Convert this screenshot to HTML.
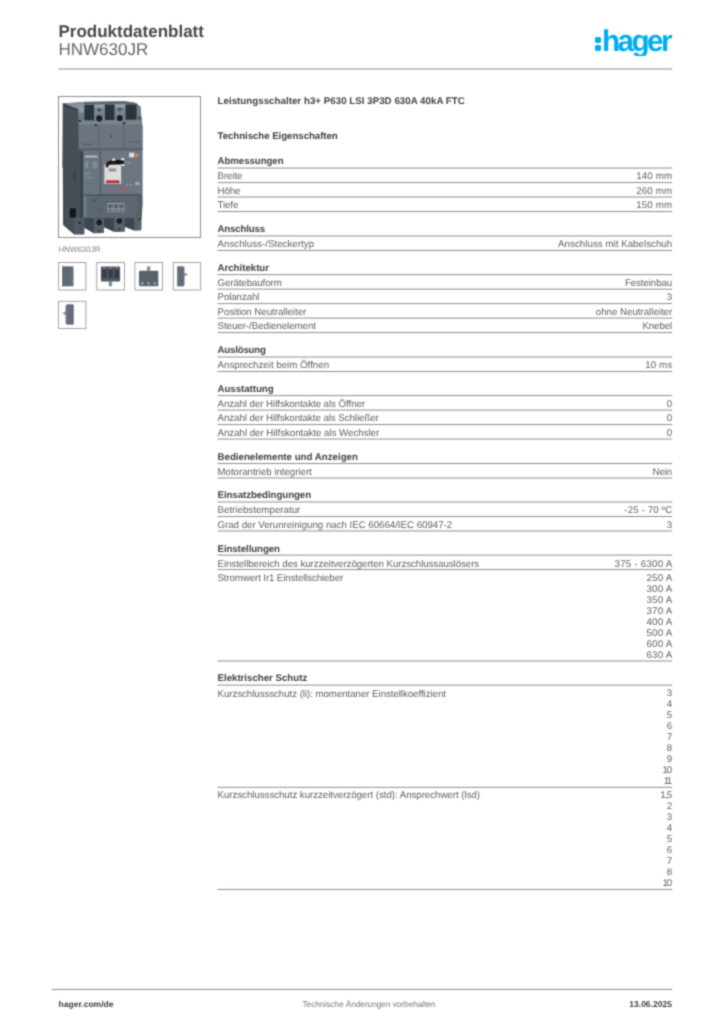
<!DOCTYPE html>
<html lang="de">
<head>
<meta charset="utf-8">
<title>Produktdatenblatt HNW630JR</title>
<style>
html,body{margin:0;padding:0;background:#fff;}
body{width:724px;height:1024px;position:relative;overflow:hidden;font-family:"Liberation Sans",sans-serif;text-rendering:geometricPrecision;}
.t{position:absolute;white-space:nowrap;line-height:1;}
#page{position:absolute;left:0;top:0;width:724px;height:1024px;filter:url(#soft);}
.box{position:absolute;border:1px solid #8c8c8c;box-sizing:border-box;background:#fff;}
</style>
</head>
<body>
<svg width="0" height="0" style="position:absolute"><defs><filter id="soft" x="0" y="0" width="100%" height="100%" color-interpolation-filters="sRGB"><feConvolveMatrix order="3" kernelMatrix="0.0400 0.1200 0.0400 0.1200 0.3600 0.1200 0.0400 0.1200 0.0400" edgeMode="duplicate" preserveAlpha="false"/></filter></defs></svg>
<div id="page">
<div class="t" style="left:58.5px;top:23.00px;font-size:17px;font-weight:700;color:#4a4a4a;letter-spacing:0px">Produktdatenblatt</div>
<div class="t" style="left:58.5px;top:41.00px;font-size:17px;color:#666;letter-spacing:0px">HNW630JR</div>
<div class="logo" style="position:absolute;left:594.5px;top:37px;width:6.4px;height:5.8px;border-radius:1.4px;background:#00aeef"></div>
<div class="logo" style="position:absolute;left:594.5px;top:45.4px;width:6.4px;height:5.8px;border-radius:1.4px;background:#00aeef"></div>
<div id="logoclip" style="position:absolute;left:596px;top:20px;width:90px;height:35.8px;overflow:hidden"><div class="t" id="logotxt" style="left:5.6px;top:7px;font-size:30px;font-weight:700;color:#00aeef;letter-spacing:-2.6px;transform-origin:0 0;transform:scaleX(0.988)">hager</div></div>

<div class="t" style="left:217.5px;top:97.00px;font-size:9.73px;font-weight:700;color:#434343;letter-spacing:0.03px">Leistungsschalter h3+ P630 LSI 3P3D 630A 40kA FTC</div>
<div class="t" style="left:217.5px;top:132.00px;font-size:9.73px;font-weight:700;color:#434343;letter-spacing:-0.07px">Technische Eigenschaften</div>
<div class="box" style="left:58px;top:96px;width:143px;height:142px"></div>
<svg id="prod" style="position:absolute;left:59px;top:97px" width="141" height="140" viewBox="59 97 141 140">
<defs>
<linearGradient id="gTop" x1="0" x2="0" y1="0" y2="1"><stop offset="0" stop-color="#7a848e"/><stop offset="1" stop-color="#68727c"/></linearGradient>
<clipPath id="sil"><path d="M62.6,103.3 L84.7,101.8 L125,101.1 L136,103 L140.6,106.6 L142.7,126 L142.7,205 L141.6,218 L141.4,230.2 L134.2,230.4 L124.7,226.8 L124.7,231.5 L114,231.7 L104,227.2 L104,233.1 L93.8,233.2 L84.3,227.8 L84.3,234.4 L74,234.4 L63,225 L62.6,168 L62.3,167 Z"/></clipPath>
</defs>
<g clip-path="url(#sil)">
<!-- silhouette -->
<path d="M62.6,103.3 L84.7,101.8 L125,101.1 L136,103 L140.6,106.6 L142.7,126 L142.7,205 L141.6,218 L141.4,230.2 L134.2,230.4 L124.7,226.8 L124.7,231.5 L114,231.7 L104,227.2 L104,233.1 L93.8,233.2 L84.3,227.8 L84.3,234.4 L74,234.4 L63,225 L62.6,168 L62.3,167 Z" fill="#69737d"/>
<!-- top face -->
<path d="M62.6,103.3 L84.7,101.8 L125,101.1 L136,103 L140.6,106.6 L142,125.8 L78.5,125.8 L78,109 Z" fill="url(#gTop)"/>
<!-- left side face -->
<path d="M62.6,103.3 L78,109.5 L78.5,125 L79,150 L82.8,152 L82.8,217 L84.3,228 L84.3,234.4 L74,234.4 L63,225 L62.6,168 L62.3,167 Z" fill="#444f57"/>
<path d="M62.6,103.3 L78,109.5 L78,111 L62.6,105.2 Z" fill="#343e46"/>
<!-- top highlights -->
<path d="M64.5,103.6 L84.5,102.2 L84.5,106.5 L78.5,108.6 Z" fill="#8a939d" opacity=".85"/>
<rect x="84" y="101.6" width="56" height="3" fill="#5f6973"/>
<rect x="94.6" y="104.5" width="9.6" height="3.3" fill="#98a1aa"/>
<rect x="79.2" y="106.4" width="4.8" height="6.2" fill="#929ba4"/>
<rect x="114.8" y="104.2" width="10.2" height="3.3" fill="#98a1aa"/>
<rect x="94.6" y="107.8" width="10" height="13" fill="#78828c"/>
<rect x="114.6" y="107.5" width="10.8" height="13" fill="#78828c"/>
<rect x="78.6" y="120.6" width="63.6" height="4" fill="#7a848e"/>
<!-- slots -->
<rect x="84.4" y="105" width="9.6" height="15.3" fill="#2a343c"/>
<rect x="105" y="104.7" width="9.4" height="15.3" fill="#2a343c"/>
<rect x="125.6" y="104.7" width="11" height="14.9" fill="#2a343c"/>
<circle cx="99.3" cy="118.4" r="3.1" fill="#1d2126"/>
<circle cx="119.8" cy="118.1" r="3.1" fill="#1d2126"/>
<circle cx="99.2" cy="110" r="1.4" fill="#333c44"/>
<circle cx="119.7" cy="109.4" r="1.4" fill="#333c44"/>
<circle cx="79.8" cy="120.9" r="1.2" fill="#262b31"/>
<circle cx="95.9" cy="125.2" r="1.2" fill="#262b31"/>
<circle cx="123.9" cy="123.3" r="1.2" fill="#262b31"/>
<circle cx="139.4" cy="118.1" r="1.1" fill="#262b31"/>
<!-- upper cover -->
<rect x="78.6" y="126" width="64.1" height="22.4" fill="#6b7480"/>
<rect x="98.6" y="126" width=".8" height="22.4" fill="#59626c"/>
<rect x="122.9" y="126" width=".8" height="22.4" fill="#59626c"/>
<rect x="78.6" y="148" width="64" height="2.6" fill="#5a636d"/>
<circle cx="111.2" cy="136.4" r="1.1" fill="#454d57"/>
<rect x="82.5" y="143.6" width="10.5" height="1.3" fill="#58616b"/>
<rect x="128.8" y="141.3" width="11" height="1.3" fill="#58616b"/>
<!-- mid panels -->
<rect x="80.7" y="151" width="2.3" height="66" fill="#353f47"/>
<rect x="83.1" y="151" width="17" height="43.6" fill="#6a747e"/>
<rect x="100.9" y="150.6" width="41.5" height="42.6" fill="#6c7680"/>
<rect x="100" y="150.8" width="1" height="43.5" fill="#4d5660"/>
<rect x="85" y="155.5" width="12.4" height="2.1" fill="#d5d9de" opacity=".7"/>
<rect x="85" y="161.3" width="3.5" height="7" fill="#9aa2ab" opacity=".5"/>
<rect x="92.5" y="161.3" width="5" height="7" fill="#9aa2ab" opacity=".5"/>
<rect x="85" y="172.5" width="5" height="2.2" fill="#9aa2ab" opacity=".5"/>
<rect x="85" y="176.5" width="7.5" height="2.2" fill="#9aa2ab" opacity=".45"/>
<rect x="129.1" y="152.7" width="5.2" height="4.6" fill="#eceef0" opacity=".9"/>
<path d="M135.4,153.3 L140,155.3 L135.4,157.4 Z" fill="#e88a33"/>
<!-- handle -->
<rect x="104.3" y="164.6" width="16.8" height="19.2" fill="#dddcda"/>
<rect x="108.8" y="168.3" width="7.4" height="3.2" fill="#84878c" opacity=".85"/>
<path d="M105.6,167 Q105.8,161 111.5,160.6 L123.6,160.3 L123.8,164 L110,164.4 Q108.2,164.6 108,167.4 Z" fill="#17191c"/>
<circle cx="118.1" cy="162.2" r="2.1" fill="#0c0d0f"/>
<rect x="112.2" y="158.7" width="3" height="2" fill="#f2f2f2"/>
<rect x="121.2" y="158.2" width="3" height="2" fill="#f2f2f2"/>
<rect x="121.6" y="164.2" width="2.8" height="1.8" fill="#f2f2f2"/>
<rect x="125.8" y="162.2" width="5.4" height="1.3" fill="#9aa2ab" opacity=".7"/>
<rect x="106" y="180.3" width="13.4" height="2.9" fill="#c52d34"/>
<rect x="135.2" y="181.8" width="4.2" height="3.4" fill="#d0d4d9" opacity=".5"/>
<rect x="125.6" y="184.4" width="7" height="1.1" fill="#a7aeb6" opacity=".6"/>
<circle cx="122.9" cy="189.7" r="1.7" fill="#e4483f"/>
<!-- lower cover -->
<rect x="83.8" y="194.6" width="53.6" height="22.6" fill="#5d6771"/>
<rect x="83.8" y="194.4" width="58" height="1.6" fill="#4b555f"/>
<rect x="83.8" y="196" width="3" height="21" fill="#6f7983"/>
<rect x="137.3" y="195.6" width="5.2" height="22" fill="#566069"/>
<rect x="106.4" y="202.3" width="18.4" height="9.8" fill="#59636d"/>
<g stroke="#b4bac2" stroke-width="1" opacity=".8" fill="none"><path d="M107.3,203.6H124.3M107.3,209H124.3"/><path stroke-width=".7" d="M107.6,203.6V211.3M113.1,203.6V211.3M118.6,203.6V211.3M124,203.6V211.3M107.3,211.6H124.3"/></g>
<circle cx="98.9" cy="210" r=".8" fill="#3b424c"/>
<rect x="92" y="199.5" width="5.4" height="1.4" fill="#4c5660"/>
<!-- side details -->
<rect x="69.8" y="208.3" width="6" height="9.2" fill="#121518"/>
<rect x="73" y="172" width="3" height="8" fill="#3b454d"/>
<!-- feet -->
<rect x="84.3" y="217.2" width="57" height="17" fill="#3d474f"/>
<rect x="83" y="216.6" width="59" height="1.4" fill="#5f6872"/>
<rect x="93.8" y="218.5" width="10.2" height="14.6" fill="#59626c"/>
<rect x="114" y="218" width="10.7" height="13.5" fill="#59626c"/>
<rect x="134.2" y="217.5" width="7.2" height="12.8" fill="#59626c"/>
<rect x="74" y="218" width="10.3" height="16.4" fill="#4f5963"/>
<circle cx="99.2" cy="222.4" r="2.8" fill="#181b1f"/>
<circle cx="119.4" cy="221" r="2.8" fill="#181b1f"/>
<circle cx="79.6" cy="223" r="1.2" fill="#1f2328"/>
<circle cx="139.6" cy="219.1" r="1" fill="#1f2328"/>
<path d="M97.8,231.6 L99.2,229.2 L100.6,231.6 Z" fill="#262b31"/>
<path d="M118,230.2 L119.4,227.8 L120.8,230.2 Z" fill="#262b31"/>
</g>
</svg>

<div class="t" style="left:58.5px;top:246.00px;font-size:7.9px;color:#808080;letter-spacing:0.03px">HNW630JR</div>
<svg id="thumbs" style="position:absolute;left:56px;top:260px" width="148" height="72" viewBox="56 260 148 72">
<g fill="#fff" stroke="#a4a4a4" stroke-width="1">
<rect x="58.5" y="262.5" width="27.4" height="27.5"/>
<rect x="96.7" y="262.5" width="27.8" height="27.5"/>
<rect x="134.9" y="262.5" width="27.7" height="27.5"/>
<rect x="173.3" y="262.5" width="27.3" height="27.5"/>
<rect x="58.5" y="301.3" width="27.4" height="27.2"/>
</g>
<g>
<rect x="62.5" y="266.4" width="11" height="19.9" fill="#636d77"/>
<rect x="62.5" y="266.4" width="1.6" height="19.9" fill="#525c66"/>
<rect x="67.3" y="266.4" width=".8" height="19.9" fill="#59636d"/>
<!-- 2 -->
<rect x="100.9" y="266.4" width="19.2" height="15" rx="1" fill="#4f5862"/>
<rect x="102.4" y="269.2" width="4.2" height="8.6" fill="#353c45"/>
<rect x="108.5" y="269.2" width="4.2" height="8.6" fill="#353c45"/>
<rect x="114.6" y="269.2" width="4.2" height="8.6" fill="#353c45"/>
<rect x="103.3" y="267.6" width="2.2" height="1.4" fill="#868f98"/>
<rect x="109.5" y="267.6" width="2.2" height="1.4" fill="#868f98"/>
<rect x="115.6" y="267.6" width="2.2" height="1.4" fill="#868f98"/>
<rect x="108.7" y="281.2" width="3.4" height="5" fill="#7f8892"/>
<!-- 3 -->
<rect x="139" y="270.7" width="19.3" height="15.6" rx="1.2" fill="#59626c"/>
<rect x="146.9" y="266.4" width="3.5" height="4.6" fill="#8a939c"/>
<rect x="141" y="281.8" width="2.6" height="3.2" fill="#8d959e"/>
<rect x="147.3" y="281.8" width="2.6" height="3.2" fill="#8d959e"/>
<rect x="153.6" y="281.8" width="2.6" height="3.2" fill="#8d959e"/>
<!-- 4 -->
<path d="M177.3,266.4 H183.4 L184.6,267.8 V273 L188.3,274.4 L184.6,276 V285.2 L183.4,286.3 H177.3 Z" fill="#858e97"/>
<rect x="177.3" y="266.4" width="6.6" height="19.9" rx=".6" fill="#636d77"/>
<!-- 5 -->
<path d="M73.6,304.6 H67 L65.4,306 V311.6 L62.2,313.2 L65.4,315 V323.2 L67,324.4 H73.6 Z" fill="#858e97"/>
<rect x="66.5" y="304.6" width="7.1" height="19.8" rx=".6" fill="#636d77"/>
</g>
</svg>

<div class="t " style="top:157.00px;font-size:9.73px;letter-spacing:-0.085px;color:#434343;font-weight:700;left:217.50px;">Abmessungen</div>
<div class="t " style="top:172.00px;font-size:9.73px;letter-spacing:-0.09px;color:#626262;left:217.50px;">Breite</div>
<div class="t " style="top:172.00px;font-size:9.73px;letter-spacing:0.18500000000000003px;color:#626262;right:51.61px;text-align:right;">140 mm</div>
<div class="t " style="top:187.00px;font-size:9.73px;letter-spacing:-0.09px;color:#626262;left:217.50px;">Höhe</div>
<div class="t " style="top:187.00px;font-size:9.73px;letter-spacing:0.18500000000000003px;color:#626262;right:51.61px;text-align:right;">260 mm</div>
<div class="t " style="top:201.00px;font-size:9.73px;letter-spacing:-0.09px;color:#626262;left:217.50px;">Tiefe</div>
<div class="t " style="top:201.00px;font-size:9.73px;letter-spacing:0.18500000000000003px;color:#626262;right:51.61px;text-align:right;">150 mm</div>
<div class="t " style="top:225.00px;font-size:9.73px;letter-spacing:-0.2px;color:#434343;font-weight:700;left:217.50px;">Anschluss</div>
<div class="t " style="top:240.00px;font-size:9.73px;letter-spacing:0.02px;color:#626262;left:217.50px;">Anschluss-/Steckertyp</div>
<div class="t " style="top:240.00px;font-size:9.73px;letter-spacing:0.028px;color:#626262;right:51.77px;text-align:right;">Anschluss mit Kabelschuh</div>
<div class="t " style="top:264.00px;font-size:9.73px;letter-spacing:-0.03px;color:#434343;font-weight:700;left:217.50px;">Architektur</div>
<div class="t " style="top:279.00px;font-size:9.73px;letter-spacing:-0.094px;color:#626262;left:217.50px;">Gerätebauform</div>
<div class="t " style="top:279.00px;font-size:9.73px;letter-spacing:-0.09px;color:#626262;right:51.89px;text-align:right;">Festeinbau</div>
<div class="t " style="top:293.00px;font-size:9.73px;letter-spacing:-0.09px;color:#626262;left:217.50px;">Polanzahl</div>
<div class="t " style="top:293.00px;font-size:9.73px;letter-spacing:0.4600000000000001px;color:#626262;right:51.34px;text-align:right;">3</div>
<div class="t " style="top:308.00px;font-size:9.73px;letter-spacing:-0.045px;color:#626262;left:217.50px;">Position Neutralleiter</div>
<div class="t " style="top:308.00px;font-size:9.73px;letter-spacing:-0.019px;color:#626262;right:51.82px;text-align:right;">ohne Neutralleiter</div>
<div class="t " style="top:322.00px;font-size:9.73px;letter-spacing:-0.044px;color:#626262;left:217.50px;">Steuer-/Bedienelement</div>
<div class="t " style="top:322.00px;font-size:9.73px;letter-spacing:-0.09px;color:#626262;right:51.89px;text-align:right;">Knebel</div>
<div class="t " style="top:346.00px;font-size:9.73px;letter-spacing:-0.22px;color:#434343;font-weight:700;left:217.50px;">Auslösung</div>
<div class="t " style="top:361.00px;font-size:9.73px;letter-spacing:-0.005px;color:#626262;left:217.50px;">Ansprechzeit beim Öffnen</div>
<div class="t " style="top:361.00px;font-size:9.73px;letter-spacing:0.13000000000000003px;color:#626262;right:51.67px;text-align:right;">10 ms</div>
<div class="t " style="top:385.00px;font-size:9.73px;letter-spacing:-0.06px;color:#434343;font-weight:700;left:217.50px;">Ausstattung</div>
<div class="t " style="top:400.00px;font-size:9.73px;letter-spacing:-0.055px;color:#626262;left:217.50px;">Anzahl der Hilfskontakte als Öffner</div>
<div class="t " style="top:400.00px;font-size:9.73px;letter-spacing:0.4600000000000001px;color:#626262;right:51.34px;text-align:right;">0</div>
<div class="t " style="top:414.00px;font-size:9.73px;letter-spacing:-0.063px;color:#626262;left:217.50px;">Anzahl der Hilfskontakte als Schließer</div>
<div class="t " style="top:414.00px;font-size:9.73px;letter-spacing:0.4600000000000001px;color:#626262;right:51.34px;text-align:right;">0</div>
<div class="t " style="top:429.00px;font-size:9.73px;letter-spacing:-0.036px;color:#626262;left:217.50px;">Anzahl der Hilfskontakte als Wechsler</div>
<div class="t " style="top:429.00px;font-size:9.73px;letter-spacing:0.4600000000000001px;color:#626262;right:51.34px;text-align:right;">0</div>
<div class="t " style="top:453.00px;font-size:9.73px;letter-spacing:-0.005px;color:#434343;font-weight:700;left:217.50px;">Bedienelemente und Anzeigen</div>
<div class="t " style="top:468.00px;font-size:9.73px;letter-spacing:-0.035px;color:#626262;left:217.50px;">Motorantrieb integriert</div>
<div class="t " style="top:468.00px;font-size:9.73px;letter-spacing:-0.09px;color:#626262;right:51.89px;text-align:right;">Nein</div>
<div class="t " style="top:491.00px;font-size:9.73px;letter-spacing:-0.084px;color:#434343;font-weight:700;left:217.50px;">Einsatzbedingungen</div>
<div class="t " style="top:506.00px;font-size:9.73px;letter-spacing:0.01px;color:#626262;left:217.50px;">Betriebstemperatur</div>
<div class="t " style="top:506.00px;font-size:9.73px;letter-spacing:0.11000000000000001px;color:#626262;right:51.69px;text-align:right;">-25 - 70 ºC</div>
<div class="t " style="top:521.00px;font-size:9.73px;letter-spacing:-0.03px;color:#626262;left:217.50px;">Grad der Verunreinigung nach IEC 60664/IEC 60947-2</div>
<div class="t " style="top:521.00px;font-size:9.73px;letter-spacing:0.4600000000000001px;color:#626262;right:51.34px;text-align:right;">3</div>
<div class="t " style="top:545.00px;font-size:9.73px;letter-spacing:-0.104px;color:#434343;font-weight:700;left:217.50px;">Einstellungen</div>
<div class="t " style="top:560.00px;font-size:9.73px;letter-spacing:-0.069px;color:#626262;left:217.50px;">Einstellbereich des kurzzeitverzögerten Kurzschlussauslösers</div>
<div class="t " style="top:560.00px;font-size:9.73px;letter-spacing:0.23083333333333336px;color:#626262;right:51.57px;text-align:right;">375 - 6300 A</div>
<div class="t " style="top:574.00px;font-size:9.73px;letter-spacing:-0.118px;color:#626262;left:217.50px;">Stromwert Ir1 Einstellschieber</div>
<div class="t " style="top:574.00px;font-size:9.73px;letter-spacing:0.24000000000000002px;color:#626262;right:51.56px;text-align:right;">250 A</div>
<div class="t " style="top:585.00px;font-size:9.73px;letter-spacing:0.24000000000000002px;color:#626262;right:51.56px;text-align:right;">300 A</div>
<div class="t " style="top:596.00px;font-size:9.73px;letter-spacing:0.24000000000000002px;color:#626262;right:51.56px;text-align:right;">350 A</div>
<div class="t " style="top:607.00px;font-size:9.73px;letter-spacing:0.24000000000000002px;color:#626262;right:51.56px;text-align:right;">370 A</div>
<div class="t " style="top:618.00px;font-size:9.73px;letter-spacing:0.24000000000000002px;color:#626262;right:51.56px;text-align:right;">400 A</div>
<div class="t " style="top:629.00px;font-size:9.73px;letter-spacing:0.24000000000000002px;color:#626262;right:51.56px;text-align:right;">500 A</div>
<div class="t " style="top:640.00px;font-size:9.73px;letter-spacing:0.24000000000000002px;color:#626262;right:51.56px;text-align:right;">600 A</div>
<div class="t " style="top:651.00px;font-size:9.73px;letter-spacing:0.24000000000000002px;color:#626262;right:51.56px;text-align:right;">630 A</div>
<div class="t " style="top:674.00px;font-size:9.73px;letter-spacing:-0.026px;color:#434343;font-weight:700;left:217.50px;">Elektrischer Schutz</div>
<div class="t " style="top:690.00px;font-size:9.73px;letter-spacing:-0.058px;color:#626262;left:217.50px;">Kurzschlussschutz (li): momentaner Einstellkoeffizient</div>
<div class="t " style="top:689.00px;font-size:9.73px;letter-spacing:0.4600000000000001px;color:#626262;right:51.34px;text-align:right;">3</div>
<div class="t " style="top:700.00px;font-size:9.73px;letter-spacing:0.4600000000000001px;color:#626262;right:51.34px;text-align:right;">4</div>
<div class="t " style="top:711.00px;font-size:9.73px;letter-spacing:0.4600000000000001px;color:#626262;right:51.34px;text-align:right;">5</div>
<div class="t " style="top:722.00px;font-size:9.73px;letter-spacing:0.4600000000000001px;color:#626262;right:51.34px;text-align:right;">6</div>
<div class="t " style="top:733.00px;font-size:9.73px;letter-spacing:0.4600000000000001px;color:#626262;right:51.34px;text-align:right;">7</div>
<div class="t " style="top:744.00px;font-size:9.73px;letter-spacing:0.4600000000000001px;color:#626262;right:51.34px;text-align:right;">8</div>
<div class="t " style="top:755.00px;font-size:9.73px;letter-spacing:0.4600000000000001px;color:#626262;right:51.34px;text-align:right;">9</div>
<div class="t " style="top:766.00px;font-size:9.73px;letter-spacing:-1.1px;color:#626262;right:52.90px;text-align:right;">10</div>
<div class="t " style="top:777.00px;font-size:9.73px;letter-spacing:-1.7px;color:#626262;right:53.50px;text-align:right;">11</div>
<div class="t " style="top:791.00px;font-size:9.73px;letter-spacing:-0.046px;color:#626262;left:217.50px;">Kurzschlussschutz kurzzeitverzögert (std): Ansprechwert (lsd)</div>
<div class="t " style="top:791.00px;font-size:9.73px;letter-spacing:-0.8px;color:#626262;right:52.60px;text-align:right;">1,5</div>
<div class="t " style="top:802.00px;font-size:9.73px;letter-spacing:0.4600000000000001px;color:#626262;right:51.34px;text-align:right;">2</div>
<div class="t " style="top:813.00px;font-size:9.73px;letter-spacing:0.4600000000000001px;color:#626262;right:51.34px;text-align:right;">3</div>
<div class="t " style="top:824.00px;font-size:9.73px;letter-spacing:0.4600000000000001px;color:#626262;right:51.34px;text-align:right;">4</div>
<div class="t " style="top:835.00px;font-size:9.73px;letter-spacing:0.4600000000000001px;color:#626262;right:51.34px;text-align:right;">5</div>
<div class="t " style="top:846.00px;font-size:9.73px;letter-spacing:0.4600000000000001px;color:#626262;right:51.34px;text-align:right;">6</div>
<div class="t " style="top:857.00px;font-size:9.73px;letter-spacing:0.4600000000000001px;color:#626262;right:51.34px;text-align:right;">7</div>
<div class="t " style="top:868.00px;font-size:9.73px;letter-spacing:0.4600000000000001px;color:#626262;right:51.34px;text-align:right;">8</div>
<div class="t " style="top:879.00px;font-size:9.73px;letter-spacing:-1.1px;color:#626262;right:52.90px;text-align:right;">10</div>
<svg id="rules" style="position:absolute;left:0;top:0" width="724" height="1024" viewBox="0 0 724 1024" fill="#8e8e8e"><rect x="217.50" y="167.55" width="454.70" height="1.0"/><rect x="217.50" y="182.03" width="454.70" height="1.0"/><rect x="217.50" y="196.51" width="454.70" height="1.0"/><rect x="217.50" y="210.99" width="454.70" height="1.0"/><rect x="217.50" y="235.45" width="454.70" height="1.0"/><rect x="217.50" y="249.93" width="454.70" height="1.0"/><rect x="217.50" y="274.15" width="454.70" height="1.0"/><rect x="217.50" y="288.63" width="454.70" height="1.0"/><rect x="217.50" y="303.11" width="454.70" height="1.0"/><rect x="217.50" y="317.59" width="454.70" height="1.0"/><rect x="217.50" y="332.07" width="454.70" height="1.0"/><rect x="217.50" y="356.50" width="454.70" height="1.0"/><rect x="217.50" y="370.98" width="454.70" height="1.0"/><rect x="217.50" y="395.10" width="454.70" height="1.0"/><rect x="217.50" y="409.58" width="454.70" height="1.0"/><rect x="217.50" y="424.06" width="454.70" height="1.0"/><rect x="217.50" y="438.54" width="454.70" height="1.0"/><rect x="217.50" y="463.00" width="454.70" height="1.0"/><rect x="217.50" y="477.48" width="454.70" height="1.0"/><rect x="217.50" y="501.50" width="454.70" height="1.0"/><rect x="217.50" y="515.98" width="454.70" height="1.0"/><rect x="217.50" y="530.46" width="454.70" height="1.0"/><rect x="217.50" y="554.60" width="454.70" height="1.0"/><rect x="217.50" y="569.08" width="454.70" height="1.0"/><rect x="217.50" y="660.50" width="454.70" height="1.0"/><rect x="217.50" y="684.60" width="454.70" height="1.0"/><rect x="217.50" y="786.80" width="454.70" height="1.0"/><rect x="217.50" y="888.95" width="454.70" height="1.0"/><rect x="58.50" y="68.45" width="613.70" height="1.0"/><rect x="51.50" y="988.95" width="620.70" height="1.0"/></svg>
<div class="t" style="left:58.5px;top:1000.00px;font-size:8.5px;font-weight:700;color:#3c3c3c;letter-spacing:0.02px">hager.com/de</div>
<div class="t" style="left:169px;width:400px;text-align:center;top:1000.00px;font-size:8.3px;color:#777;letter-spacing:-0.05px">Technische Änderungen vorbehalten</div>
<div class="t" style="right:52px;top:1000.00px;font-size:8.5px;font-weight:700;color:#3c3c3c;letter-spacing:0.02px">13.06.2025</div>
</div>
</body>
</html>
